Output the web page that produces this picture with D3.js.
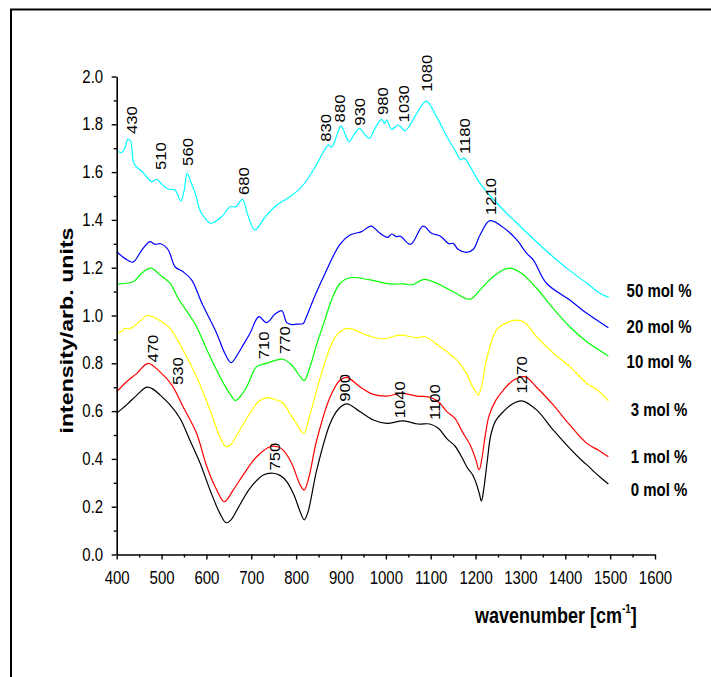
<!DOCTYPE html>
<html>
<head>
<meta charset="utf-8">
<script src="https://cdn.jsdelivr.net/npm/d3@7"></script>
<style>
  html, body { margin: 0; padding: 0; background: #fff; }
  svg { display: block; }
  text { font-family: "Liberation Sans", Arial, sans-serif; }
</style>
</head>
<body>
<svg id="chart" width="711" height="677"></svg>
<script>
// ---------------- data ----------------
const seriesNames  = ["0 mol %", "1 mol %", "3 mol %", "10 mol %", "20 mol %", "50 mol %"];
const seriesColors = ["#000000", "#ff0000", "#ffff00", "#00ff00", "#0000ff", "#00ffff"];

// [wavenumber, intensity]
const mol0 = [[400,0.591],[422,0.626],[445,0.667],[467,0.700],[480,0.693],[497,0.667],[519,0.626],[541,0.570],[563,0.479],[586,0.382],[608,0.270],[630,0.172],[644,0.133],[655,0.145],[668,0.186],[697,0.277],[727,0.333],[749,0.340],[765,0.330],[779,0.305],[795,0.250],[809,0.179],[818,0.145],[826,0.175],[846,0.354],[876,0.549],[895,0.610],[913,0.630],[942,0.598],[972,0.563],[1002,0.549],[1039,0.559],[1072,0.546],[1098,0.546],[1117,0.528],[1136,0.485],[1154,0.454],[1170,0.405],[1182,0.362],[1193,0.335],[1202,0.295],[1209,0.25],[1213,0.224],[1218,0.27],[1226,0.39],[1234,0.50],[1245,0.56],[1262,0.598],[1282,0.630],[1303,0.643],[1336,0.605],[1373,0.521],[1410,0.444],[1440,0.388],[1450,0.372],[1462,0.350],[1480,0.320],[1496,0.295]];
const mol1 = [[400,0.681],[422,0.723],[445,0.758],[470,0.800],[496,0.765],[523,0.709],[548,0.618],[578,0.507],[601,0.367],[623,0.270],[640,0.221],[660,0.270],[682,0.333],[712,0.409],[742,0.451],[760,0.450],[771,0.437],[790,0.382],[809,0.291],[818,0.270],[828,0.32],[846,0.479],[876,0.660],[898,0.730],[913,0.741],[942,0.702],[972,0.670],[1002,0.663],[1035,0.674],[1069,0.663],[1098,0.658],[1117,0.639],[1136,0.598],[1154,0.570],[1170,0.515],[1188,0.458],[1200,0.40],[1208,0.354],[1214,0.40],[1221,0.49],[1230,0.58],[1245,0.645],[1262,0.688],[1285,0.730],[1310,0.744],[1336,0.70],[1373,0.626],[1410,0.542],[1448,0.465],[1475,0.435],[1496,0.409]];
const mol3 = [[400,0.925],[412,0.935],[418,0.946],[430,0.945],[445,0.965],[467,0.999],[480,0.995],[497,0.978],[519,0.946],[548,0.856],[578,0.744],[608,0.605],[630,0.493],[644,0.451],[655,0.460],[668,0.500],[697,0.591],[716,0.639],[734,0.656],[750,0.650],[771,0.633],[786,0.59],[800,0.55],[817,0.507],[830,0.58],[861,0.786],[883,0.897],[900,0.935],[918,0.946],[957,0.918],[994,0.902],[1031,0.918],[1069,0.907],[1087,0.911],[1121,0.869],[1158,0.814],[1180,0.758],[1190,0.715],[1199,0.685],[1206,0.668],[1213,0.70],[1225,0.82],[1247,0.94],[1270,0.97],[1292,0.981],[1310,0.97],[1336,0.911],[1373,0.843],[1410,0.786],[1448,0.716],[1470,0.69],[1496,0.643]];
const mol10 = [[400,1.131],[420,1.135],[437,1.141],[456,1.177],[476,1.198],[497,1.169],[519,1.135],[537,1.072],[567,0.988],[578,0.953],[608,0.828],[638,0.716],[655,0.665],[664,0.644],[675,0.66],[690,0.702],[712,0.786],[734,0.800],[770,0.817],[790,0.793],[809,0.744],[818,0.728],[830,0.78],[846,0.88],[864,0.981],[879,1.065],[898,1.135],[920,1.158],[965,1.149],[1009,1.132],[1040,1.132],[1058,1.128],[1087,1.151],[1143,1.107],[1188,1.068],[1210,1.107],[1239,1.162],[1273,1.198],[1300,1.18],[1336,1.114],[1373,1.030],[1410,0.953],[1448,0.890],[1496,0.831]];
const mol20 = [[400,1.267],[418,1.239],[436,1.223],[456,1.274],[474,1.309],[485,1.298],[498,1.30],[515,1.274],[530,1.204],[548,1.183],[567,1.149],[590,1.051],[623,0.925],[641,0.842],[655,0.803],[671,0.842],[682,0.877],[697,0.925],[717,0.995],[734,0.970],[753,1.006],[768,1.020],[779,0.970],[790,0.962],[801,0.964],[816,0.967],[820,0.981],[838,1.065],[861,1.162],[898,1.299],[920,1.337],[946,1.351],[967,1.374],[987,1.344],[1004,1.327],[1013,1.341],[1023,1.330],[1032,1.332],[1055,1.298],[1083,1.374],[1102,1.344],[1121,1.333],[1141,1.30],[1150,1.302],[1161,1.277],[1180,1.264],[1195,1.277],[1210,1.337],[1232,1.397],[1269,1.358],[1292,1.316],[1314,1.260],[1329,1.232],[1358,1.135],[1410,1.065],[1448,1.009],[1496,0.949]];
const mol50 = [[400,1.692],[411,1.681],[418,1.70],[425,1.737],[431,1.73],[439,1.634],[459,1.598],[478,1.560],[489,1.570],[500,1.55],[515,1.529],[530,1.525],[543,1.479],[550,1.52],[557,1.595],[565,1.56],[575,1.511],[587,1.434],[600,1.40],[610,1.386],[634,1.413],[653,1.455],[666,1.455],[680,1.486],[693,1.416],[708,1.358],[730,1.41],[757,1.462],[786,1.497],[809,1.532],[824,1.567],[845,1.63],[861,1.685],[872,1.713],[879,1.704],[890,1.75],[900,1.793],[909,1.76],[918,1.727],[930,1.76],[941,1.783],[952,1.76],[963,1.741],[975,1.78],[981,1.80],[991,1.821],[997,1.804],[1002,1.818],[1013,1.779],[1028,1.797],[1043,1.773],[1069,1.846],[1090,1.897],[1113,1.832],[1136,1.748],[1154,1.692],[1167,1.651],[1172,1.658],[1177,1.655],[1188,1.623],[1210,1.553],[1255,1.455],[1290,1.39],[1329,1.32],[1370,1.25],[1405,1.195],[1448,1.135],[1477,1.093],[1497,1.076]];
const seriesData = [mol0, mol1, mol3, mol10, mol20, mol50];

// legend label anchor positions (data units)
const legendX = 1609;
const legendY = [0.273, 0.412, 0.608, 0.807, 0.953, 1.107];

// peak annotation labels: [text, wavenumber position, intensity position of label bottom]
const peakLabels = [
  ["430",433.4,1.759],["510",498.8,1.609],["560",558.3,1.626],["680",683.8,1.504],
  ["830",865.9,1.727],["880",896.2,1.808],["930",940.8,1.794],["980",993,1.839],
  ["1030",1038.9,1.808],["1080",1091,1.936],["1180",1174.9,1.676],["1210",1233.7,1.420],
  ["470",480.3,0.803],["530",535.1,0.709],["710",726.8,0.817],["770",773.6,0.839],
  ["750",751.3,0.351],["900",907.4,0.639],["1040",1031.5,0.570],["1100",1108,0.563],
  ["1270",1304,0.674]
];

const xTicks = d3.range(400, 1601, 100);
const xMinorTicks = d3.range(450, 1600, 100);
const yTicks = d3.range(0, 2.001, 0.2);
const yMinorTicks = d3.range(0.1, 2.0, 0.2);

// ---------------- drawing ----------------
const svg = d3.select("#chart");
const x = d3.scaleLinear().domain([400, 1600]).range([116.7, 655]);
const y = d3.scaleLinear().domain([0, 2]).range([554.5, 76.5]);

// outer frame (left + top)
svg.append("path")
  .attr("d", "M11,677 L11,9.5 L711,9.5")
  .attr("fill", "none").attr("stroke", "#000").attr("stroke-width", 2);

// curves
const line = d3.line()
  .x(d => x(d[0])).y(d => y(d[1]))
  .curve(d3.curveCatmullRom.alpha(0.5));

svg.append("g").selectAll("path")
  .data(seriesData)
  .join("path")
  .attr("d", line)
  .attr("fill", "none")
  .attr("stroke", (d, i) => seriesColors[i])
  .attr("stroke-width", 1.2)
  .attr("stroke-linejoin", "round");

// axes
const S = 1.2;
const yAxis = svg.append("g").attr("transform", `translate(${x(400)},0)`)
  .call(d3.axisLeft(y).tickValues(yTicks).tickFormat(d3.format(".1f")).tickSize(5).tickSizeOuter(0));
svg.append("g").attr("transform", `translate(${x(400)},0)`)
  .call(d3.axisLeft(y).tickValues(yMinorTicks).tickFormat("").tickSize(3).tickSizeOuter(0))
  .call(g => g.select(".domain").remove());

const xAxis = svg.append("g").attr("transform", `translate(0,${y(0)})`)
  .call(d3.axisBottom(x).tickValues(xTicks).tickFormat(d3.format("d")).tickSize(5).tickSizeOuter(0));
svg.append("g").attr("transform", `translate(0,${y(0)})`)
  .call(d3.axisBottom(x).tickValues(xMinorTicks).tickFormat("").tickSize(3).tickSizeOuter(0))
  .call(g => g.select(".domain").remove());

svg.selectAll(".domain").attr("stroke-width", 1.6);
svg.selectAll(".tick line").attr("stroke-width", 1.4);

yAxis.selectAll("text")
  .attr("x", null).attr("dy", null)
  .attr("font-size", 15).attr("font-family", "Liberation Sans, Arial, sans-serif")
  .attr("fill", "#000")
  .attr("text-anchor", "end")
  .attr("transform", `translate(-13.5,5.6) scale(1,${S})`);

xAxis.selectAll("text")
  .attr("y", null).attr("dy", null)
  .attr("font-size", 15).attr("font-family", "Liberation Sans, Arial, sans-serif")
  .attr("fill", "#000")
  .attr("transform", `translate(0,29) scale(1,${S})`);

// axis titles
svg.append("text")
  .attr("transform", "translate(66.5,330.5) rotate(-90)")
  .attr("text-anchor", "middle").attr("dy", "0.36em")
  .attr("font-size", 17.5).attr("font-weight", "bold")
  .attr("textLength", 206).attr("lengthAdjust", "spacingAndGlyphs")
  .text("intensity/arb. units");

const xt = svg.append("text")
  .attr("transform", `translate(475,623) scale(1,1.25)`)
  .attr("font-size", 18).attr("font-weight", "bold");
xt.append("tspan").text("wavenumber [cm");
xt.append("tspan").attr("font-size", 10).attr("dy", -8).text("-1");
xt.append("tspan").attr("dy", 8).text("]");

// legend labels
svg.append("g").selectAll("text")
  .data(seriesNames)
  .join("text")
  .attr("transform", (d, i) => `translate(${x(legendX)},${y(legendY[i])}) scale(1,1.25)`)
  .attr("text-anchor", "middle").attr("dy", "0.36em")
  .attr("font-size", 15).attr("font-weight", "bold")
  .text(d => d);

// peak labels
svg.append("g").selectAll("text")
  .data(peakLabels)
  .join("text")
  .attr("transform", d => `translate(${x(d[1])},${y(d[2])}) rotate(-90) scale(1.15,1)`)
  .attr("text-anchor", "start").attr("dy", "0.36em")
  .attr("font-size", 14.5)
  .text(d => d[0]);
</script>
</body>
</html>
